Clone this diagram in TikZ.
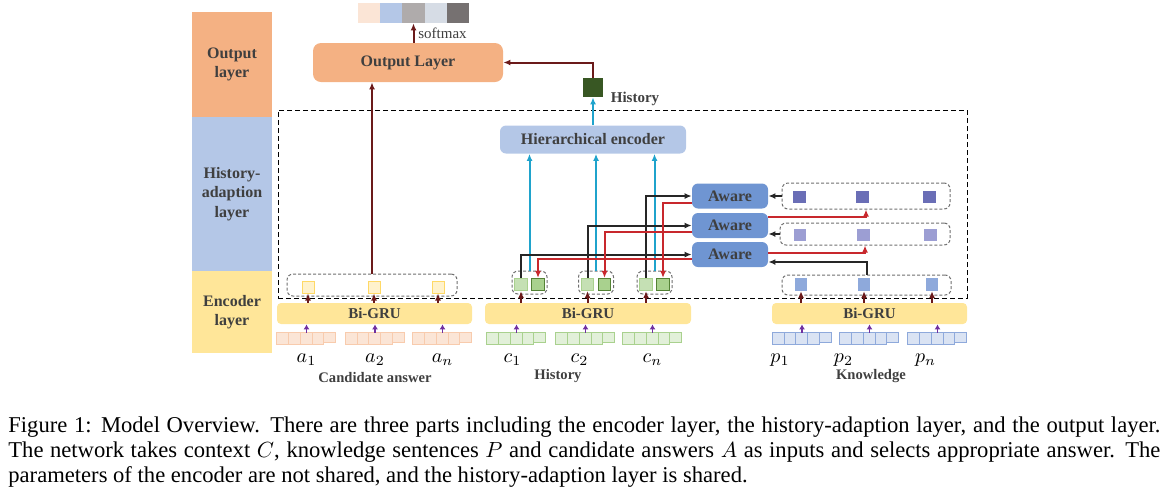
\documentclass[tikz,border=0pt]{standalone}
\usepackage{fontspec}
\setmainfont{Liberation Serif}
\usetikzlibrary{arrows.meta,positioning}
\definecolor{txt}{HTML}{3F3F3F}
\definecolor{outor}{HTML}{F4B183}
\definecolor{hisbl}{HTML}{B4C7E7}
\definecolor{gruyel}{HTML}{FFE699}
\definecolor{awblue}{HTML}{6F95D2}
\definecolor{grpgray}{HTML}{6F6F6F}
\definecolor{hisgrn}{HTML}{385723}
\definecolor{cbrn}{HTML}{6B1A1A}
\definecolor{cred}{HTML}{C8282D}
\definecolor{ccyan}{HTML}{1FA3CC}
\definecolor{cblk}{HTML}{262626}
\definecolor{cpurp}{HTML}{7030A0}
\definecolor{smA}{HTML}{FBE5D6}
\definecolor{smB}{HTML}{B4C7E7}
\definecolor{smC}{HTML}{AFABAB}
\definecolor{smD}{HTML}{D6DCE5}
\definecolor{smE}{HTML}{767171}
\definecolor{kdark}{HTML}{6A6EB6}
\definecolor{kmid}{HTML}{9C9ED3}
\definecolor{klight}{HTML}{8EA9DB}
\definecolor{glight}{HTML}{C5E0B4}
\definecolor{gmid}{HTML}{A9D18E}
\definecolor{gdark}{HTML}{548235}
\definecolor{cafill}{HTML}{FFF2CC}
\definecolor{caline}{HTML}{FFD966}
\definecolor{tokA}{HTML}{FBE5D6}
\definecolor{tokAl}{HTML}{F8CBAD}
\definecolor{tokC}{HTML}{E2F0D9}
\definecolor{tokK}{HTML}{DAE3F3}
\newcommand\tokrow[5]{%
	\node[minimum width=29.5pt,minimum height=6pt,inner sep=0] (#1) at (#2,#3) {};
	\foreach \k in {0,1,2,3}
		\draw[fill=#4,draw=#5,line width=0.4pt] ([xshift=\k*5.9pt]#1.north west) rectangle ++(5.9pt,-6pt);
	\draw[fill=#4,draw=#5,line width=0.4pt] ([xshift=23.6pt]#1.north west) rectangle ++(5.9pt,-5pt);
}
\begin{document}
\begin{tikzpicture}[x=0.5pt,y=-0.5pt,
	band/.style={inner sep=0,minimum width=40pt,text=txt,align=center,font=\bfseries\fontsize{8}{9.7}\selectfont},
	box/.style={inner sep=0,rounded corners=3pt,text=txt,font=\bfseries\fontsize{8}{9}\selectfont},
	gru/.style={box,fill=gruyel,minimum height=10.5pt,rounded corners=2pt,font=\bfseries\fontsize{7.5}{9}\selectfont},
	aware/.style={box,fill=awblue,minimum width=38pt,minimum height=12.5pt},
	grp/.style={draw=grpgray,dash pattern=on 1.5pt off 1pt,rounded corners=3pt,inner sep=0,line width=0.5pt},
	sq/.style={inner sep=0,minimum size=6.25pt},
	lbl/.style={text=txt,font=\bfseries\fontsize{7.3}{9}\selectfont},
	arr/.style={-{Latex[length=3.5pt,width=3pt]}},
	mline/.style={arr,draw=cbrn,line width=1pt},
	rline/.style={arr,draw=cred,line width=1pt},
	kline/.style={arr,draw=cblk,line width=1pt},
	cline/.style={arr,draw=ccyan,line width=1pt},
	pline/.style={-{Latex[length=2.5pt,width=3pt]},draw=cpurp,line width=0.6pt}]
	\useasboundingbox (0,0) rectangle (1165,494);

	\node[band,fill=outor,minimum height=52.5pt] (lout) at (232,64.5) {Output\\layer};
	\node[band,fill=hisbl,minimum height=77pt] (lhis) at (232,194) {History-\\adaption\\layer};
	\node[band,fill=gruyel,minimum height=41pt] (lenc) at (232,312) {Encoder\\layer};

	\foreach \c [count=\i] in {smA,smB,smC,smD,smE}
		\node[inner sep=0,minimum width=11.1pt,minimum height=10pt,fill=\c] (sm\i) at (369.1+22.2*\i-22.2,13) {};
	\node[box,fill=outor,minimum width=95pt,minimum height=19.5pt,rounded corners=4pt] (outl) at (408,62.5) {Output Layer};
	\node[anchor=west,text=txt,font=\fontsize{7.5}{9}\selectfont,inner sep=0] (smx) at (418,33) {softmax};
	\draw[mline] (sm3.south |- outl.north) -- (sm3.south);

	\node[inner sep=0,minimum width=10pt,minimum height=9.5pt,fill=hisgrn] (hist) at (593,87.5) {};
	\node[lbl,font=\bfseries\fontsize{7.5}{9}\selectfont] (histlbl) at (635,99) {History};
	\draw[mline] (hist.north) |- (outl.east);

	\node[draw=black,dash pattern=on 2.5pt off 1.5pt,line width=0.5pt,minimum width=344.5pt,minimum height=94pt] (hal) at (622.5,204) {};
	\node[box,fill=hisbl,minimum width=93pt,minimum height=14pt] (hier) at (593,139.5) {Hierarchical encoder};
	\draw[cline] (hier.north) -- (hist.south);

	\node[aware] (aw1) at (730,196) {Aware};
	\node[aware] (aw2) at (730,225.5) {Aware};
	\node[aware] (aw3) at (730,254.5) {Aware};

	\node[grp,minimum width=84pt,minimum height=13pt] (k1) at (866,196) {};
	\node[grp,minimum width=85pt,minimum height=11pt] (k2) at (865,234) {};
	\node[grp,minimum width=84.5pt,minimum height=10pt] (k3) at (866.5,285) {};
	\foreach \x [count=\i] in {799.5,862.5,929.5}
		\node[sq,fill=kdark] (k1s\i) at (\x,197) {};
	\foreach \x [count=\i] in {800,863.5,930.5}
		\node[sq,fill=kmid] (k2s\i) at (\x,235) {};
	\foreach \x [count=\i] in {801,864,932}
		\node[sq,fill=klight] (k3s\i) at (\x,284.5) {};

	\foreach \x [count=\i] in {529.5,596,654.5}{
		\node[grp,minimum width=17.5pt,minimum height=11.5pt] (g\i) at (\x,282.5) {};
		\node[sq,fill=glight,draw=gmid,line width=0.4pt] (g\i l) at (\x-8.5,284.5) {};
		\node[sq,fill=gmid,draw=gdark,line width=0.4pt] (g\i d) at (\x+8.5,284.5) {};
		\draw[cline] (g\i.north) -- (g\i.north |- hier.south);
	}

	\draw[kline] (g1l.north) |- (aw3.west);
	\draw[kline] (g2l.north) |- (aw2.west);
	\draw[kline] (g3l.north) |- (aw1.west);
	\draw[rline] ([yshift=-3.5pt]aw1.west) -| (g3d.north);
	\draw[rline] ([yshift=-3.25pt]aw2.west) -| (g2d.north);
	\draw[rline] ([yshift=-2.25pt]aw3.west) -| (g1d.north);

	\draw[kline] (k1.west) -- (aw1.east);
	\draw[kline] (k2.west) -- (k2.west -| aw2.east);
	\draw[kline] (k3.north) |- ([yshift=-3.75pt]aw3.east);
	\draw[rline] ([yshift=4.25pt]aw2.east) -| (k1.south);
	\draw[rline] ([yshift=0.75pt]aw3.east) -| (k2.south);

	\node[grp,minimum width=85pt,minimum height=11pt] (ca) at (372,285) {};
	\foreach \x [count=\i] in {308,374,438}
		\node[sq,minimum size=6pt,fill=cafill,draw=caline,line width=0.5pt] (ca\i) at (\x,287) {};
	\draw[mline] (ca.north) -- (ca.north |- outl.south);

	\node[gru,minimum width=97.5pt] (gA) at (374.5,313.5) {Bi-GRU};
	\node[gru,minimum width=103pt] (gH) at (588,313.5) {Bi-GRU};
	\node[gru,minimum width=97.5pt] (gK) at (869.5,313.5) {Bi-GRU};
	\foreach \s in {ca1,ca2,ca3}
		\draw[mline] (\s |- gA.north) -- (\s.south);
	\foreach \s in {g1l,g2l,g3l}
		\draw[mline] (\s |- gH.north) -- (\s.south);
	\foreach \s in {k3s1,k3s2,k3s3}
		\draw[mline] (\s |- gK.north) -- (\s.south);

	\tokrow{sa1}{306.5}{339}{tokA}{tokAl}
	\tokrow{sa2}{375}{339}{tokA}{tokAl}
	\tokrow{sa3}{442.5}{339}{tokA}{tokAl}
	\tokrow{sc1}{516.5}{339}{tokC}{gmid}
	\tokrow{sc2}{585.5}{339}{tokC}{gmid}
	\tokrow{sc3}{652.5}{339}{tokC}{gmid}
	\tokrow{sp1}{802}{339}{tokK}{klight}
	\tokrow{sp2}{869.5}{339}{tokK}{klight}
	\tokrow{sp3}{937.5}{339}{tokK}{klight}
	\foreach \t in {sa1,sa2,sa3}
		\draw[pline] (\t.north) -- (\t.north |- gA.south);
	\foreach \t in {sc1,sc2,sc3}
		\draw[pline] (\t.north) -- (\t.north |- gH.south);
	\foreach \t in {sp1,sp2,sp3}
		\draw[pline] (\t.north) -- (\t.north |- gK.south);

	\node[below=4pt of sa1,inner sep=0,text=black] (la1) {$a_1$};
	\node[below=4pt of sa2,inner sep=0,text=black] (la2) {$a_2$};
	\node[below=4pt of sa3,inner sep=0,text=black] (la3) {$a_n$};
	\node[below=4pt of sc1,inner sep=0,text=black,xshift=-2pt] (lc1) {$c_1$};
	\node[below=4pt of sc2,inner sep=0,text=black,xshift=-3pt] (lc2) {$c_2$};
	\node[below=4pt of sc3,inner sep=0,text=black] (lc3) {$c_n$};
	\node[below=4pt of sp1,inner sep=0,text=black,xshift=-11pt] (lp1) {$p_1$};
	\node[below=4pt of sp2,inner sep=0,text=black,xshift=-13pt] (lp2) {$p_2$};
	\node[below=4pt of sp3,inner sep=0,text=black,xshift=-6pt] (lp3) {$p_n$};
	\node[lbl] (lcand) at (375,377) {Candidate answer};
	\node[lbl] (lhist) at (558,376) {History};
	\node[lbl] (lknow) at (871,376) {Knowledge};

	\node[anchor=north west,inner sep=0,text width=576pt,align=justify,font=\fontsize{11.3}{12.5}\selectfont] (cap) at (8,416) {Figure 1: Model Overview. There are three parts including the encoder layer, the history-adaption layer, and the output layer.\linebreak The network takes context $C$, knowledge sentences $P$ and candidate answers $A$ as inputs and selects appropriate answer. The\linebreak parameters of the encoder are not shared, and the history-adaption layer is shared.};
\end{tikzpicture}
\end{document}
